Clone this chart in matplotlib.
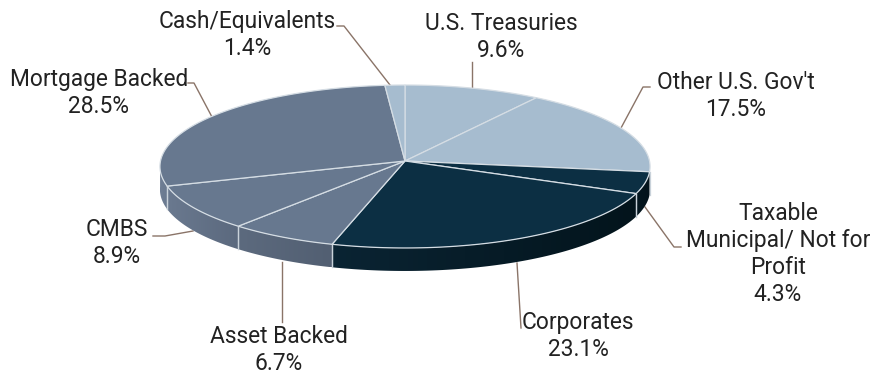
import numpy as np
import matplotlib
matplotlib.use('Agg')
import matplotlib.pyplot as plt
from matplotlib.colors import LinearSegmentedColormap
from matplotlib.patches import Polygon

categories = ['U.S. Treasuries', "Other U.S. Gov't", 'Taxable Municipal', 'Corporates',
              'Asset Backed', 'CMBS', 'Mortgage Backed', 'Cash/Equivalents']
values = [9.6, 17.5, 4.3, 23.1, 6.7, 8.9, 28.5, 1.4]
labels = ['U.S. Treasuries\n9.6%', "Other U.S. Gov't\n17.5%", 'Taxable\nMunicipal/ Not for\nProfit\n4.3%',
          'Corporates\n23.1%', 'Asset Backed\n6.7%', 'CMBS\n8.9%', 'Mortgage Backed\n28.5%',
          'Cash/Equivalents\n1.4%']
top_colors = ['#a6bccf', '#a6bccf', '#0c2f43', '#0c2f43', '#67788f', '#67788f', '#67788f', '#a6bccf']
# wall gradient, left end to right end of each slice
wall_colors = [None, None, ('#04161f', '#03131b'), ('#0a2433', '#03141c'), ('#5c6a7e', '#525f72'),
               ('#6a798f', '#5b697e'), ('#6f7e94', '#6a798f'), None]

# pixel geometry of the tilted disc
cx, cy = 405, 161
rx, ry = 244.5, 81.1
k = 0.0675
depth = 23

plt.rcParams['font.family'] = ['Roboto', 'DejaVu Sans']
fig = plt.figure(figsize=(8.87, 3.77), dpi=100)
ax = fig.add_axes([0, 0, 1, 1])
ax.set_xlim(0, 887)
ax.set_ylim(377, 0)
ax.axis('off')


def project(t, r=1.0):
    # t in degrees, clockwise from 12 o'clock
    u = r * np.sin(np.radians(t))
    v = r * np.cos(np.radians(t))
    w = 1 + k * v
    return cx + rx * u / w, cy - ry * v / w


edges = np.concatenate([[0], np.cumsum(values)]) / sum(values) * 360

# side wall: gradient image clipped to the wall outline
for i in range(len(values)):
    if wall_colors[i] is None:
        continue
    a, b = max(edges[i], 94), min(edges[i + 1], 268)
    xs, ys = project(np.linspace(a, b, 80))
    outline = np.c_[np.r_[xs, xs[::-1]], np.r_[ys, ys[::-1] + depth]]
    patch = Polygon(outline, closed=True, fc='none', ec='none', transform=ax.transData)
    ax.add_patch(patch)
    # gradient runs left to right on screen, slices go right to left
    cmap = LinearSegmentedColormap.from_list('wall', wall_colors[i])
    im = ax.imshow(np.linspace(0, 1, 64)[None, :], cmap=cmap, aspect='auto',
                   extent=[xs.min(), xs.max(), ys.max() + depth, ys.min()], zorder=2)
    im.set_clip_path(patch)
    if edges[i + 1] < 268:
        ax.plot([xs[-1], xs[-1]], [ys[-1], ys[-1] + depth], color='#c9d2da', lw=0.9, zorder=3)
    if edges[i] > 94:
        ax.plot([xs[0], xs[0]], [ys[0], ys[0] + depth], color='#c9d2da', lw=0.9, zorder=3)
ax.set_xlim(0, 887)
ax.set_ylim(377, 0)

# top face
for i in range(len(values)):
    ts = np.linspace(edges[i], edges[i + 1], 80)
    xs, ys = project(ts)
    ax.fill(np.r_[cx, xs], np.r_[cy, ys], color=top_colors[i], ec='#d5dde4', lw=0.9, zorder=4)

# leader lines
leaders = [
    ([472, 472], [62, 90]),
    ([650, 643, 621], [87, 87, 128]),
    ([645, 674, 681], [207, 247, 247]),
    ([517, 521], [263, 328]),
    ([282, 282], [262, 322]),
    ([153, 165, 193], [236, 236, 231]),
    ([188, 194, 212], [83, 83, 117]),
    ([337, 344, 390], [26, 26, 85]),
]
for xs, ys in leaders:
    ax.plot(xs, ys, color='#8a7468', lw=1.0, zorder=1)

# label positions, pixel centres
label_pos = [(501, 37), (736, 96), (778, 254), (578, 336), (279, 350), (117, 243), (99, 93), (247, 35)]
for (x, y), s in zip(label_pos, labels):
    ax.text(x, y, s, ha='center', va='center', fontsize=16.4, color='#222222', linespacing=1.22)

fig.savefig('out.png', dpi=100)
